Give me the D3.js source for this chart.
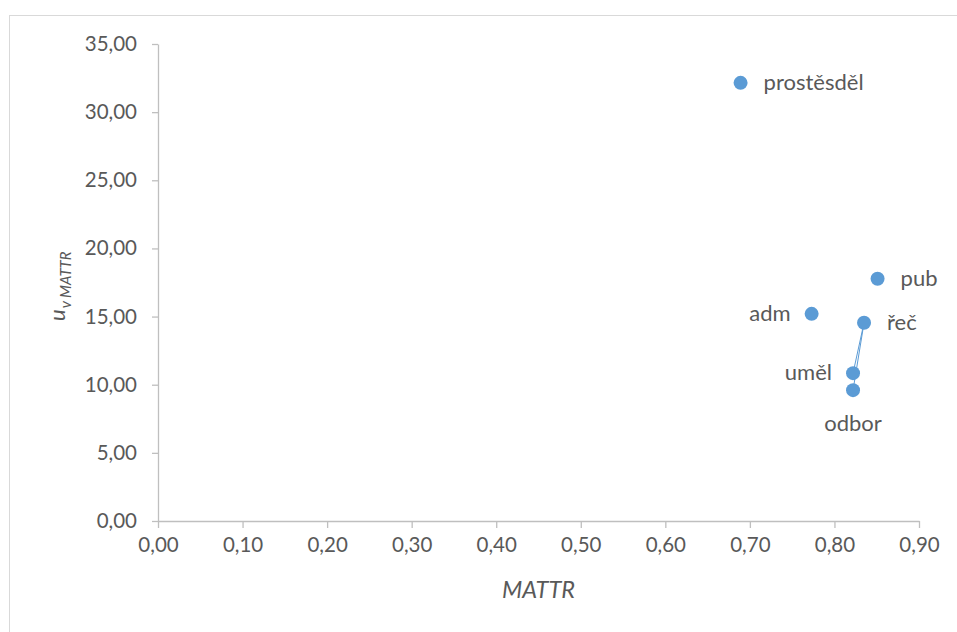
<!DOCTYPE html>
<html>
<head>
<meta charset="utf-8">
<script src="https://cdn.jsdelivr.net/npm/d3@7"></script>
<style>
  html, body { margin: 0; padding: 0; background: #fff; }
  svg { display: block; }
  text { font-family: Lato, "Open Sans", sans-serif; fill: #595959; }
</style>
</head>
<body>
<svg id="chart" width="957" height="632"></svg>
<script>
// Text categories and their (MATTR, u_v MATTR) values
const labels = ["prostěsděl", "pub", "adm", "řeč", "uměl", "odbor"];
const mattr  = [0.689, 0.851, 0.773, 0.835, 0.822, 0.822];
const uv     = [32.15, 17.78, 15.20, 14.55, 10.85, 9.60];
const labelPos = ["right", "right", "left", "right", "left", "below"];

const xTicks = [0, 0.1, 0.2, 0.3, 0.4, 0.5, 0.6, 0.7, 0.8, 0.9];
const yTicks = [0, 5, 10, 15, 20, 25, 30, 35];

const svg = d3.select("#chart");
const margin = { left: 158, right: 38, top: 44, bottom: 111 };
const W = 957, H = 632;
const FONT = "Lato, 'Open Sans', sans-serif";

// outer chart frame
svg.append("rect")
  .attr("x", 9.5).attr("y", 15.5)
  .attr("width", W + 10).attr("height", H + 10)
  .attr("fill", "none").attr("stroke", "#d9d9d9").attr("stroke-width", 1);

const x = d3.scaleLinear().domain([0, 0.9]).range([margin.left, W - margin.right]);
const y = d3.scaleLinear().domain([0, 35]).range([H - margin.bottom, margin.top]);

const fmt = d => d.toFixed(2).replace(".", ",");

// x axis
const gx = svg.append("g")
  .attr("transform", `translate(0,${y(0)})`)
  .call(d3.axisBottom(x).tickValues(xTicks).tickFormat(fmt).tickSizeInner(7).tickSizeOuter(0).tickPadding(9));
// y axis
const gy = svg.append("g")
  .attr("transform", `translate(${x(0)},0)`)
  .call(d3.axisLeft(y).tickValues(yTicks).tickFormat(fmt).tickSizeInner(6).tickSizeOuter(0).tickPadding(15));

[gx, gy].forEach(g => {
  g.attr("font-family", FONT).attr("font-size", 20.5);
  g.select(".domain").attr("stroke", "#bfbfbf").attr("stroke-width", 1.3);
  g.selectAll(".tick line").attr("stroke", "#bfbfbf").attr("stroke-width", 1.3);
  g.selectAll(".tick text").attr("fill", "#595959");
});

// axis titles
svg.append("text")
  .attr("x", (x(0) + x(0.9)) / 2).attr("y", 598)
  .attr("text-anchor", "middle")
  .attr("font-size", 23.5).attr("font-style", "italic")
  .text("MATTR");

const yt = svg.append("text")
  .attr("transform", "translate(65,321) rotate(-90)")
  .attr("text-anchor", "start")
  .attr("font-style", "italic");
yt.append("tspan").attr("font-size", 22).text("u");
yt.append("tspan").attr("font-size", 15).attr("dy", 6).attr("dx", 1).text("v MATTR");

// connector lines from řeč to uměl and odbor
const iR = labels.indexOf("řeč");
["uměl", "odbor"].forEach(n => {
  const j = labels.indexOf(n);
  svg.append("line")
    .attr("x1", x(mattr[iR])).attr("y1", y(uv[iR]))
    .attr("x2", x(mattr[j])).attr("y2", y(uv[j]))
    .attr("stroke", "#5b9bd5").attr("stroke-width", 1);
});

// markers
const data = labels.map((l, i) => ({ l, xv: mattr[i], yv: uv[i], pos: labelPos[i] }));
svg.append("g").selectAll("circle").data(data).join("circle")
  .attr("cx", d => x(d.xv)).attr("cy", d => y(d.yv)).attr("r", 7)
  .attr("fill", "#5b9bd5");

// data labels
svg.append("g").selectAll("text").data(data).join("text")
  .attr("font-size", 22)
  .attr("x", d => d.pos === "right" ? x(d.xv) + 23 : d.pos === "left" ? x(d.xv) - 21 : x(d.xv))
  .attr("y", d => d.pos === "below" ? y(d.yv) + 41 : y(d.yv) + 7)
  .attr("text-anchor", d => d.pos === "right" ? "start" : d.pos === "left" ? "end" : "middle")
  .text(d => d.l);
</script>
</body>
</html>
